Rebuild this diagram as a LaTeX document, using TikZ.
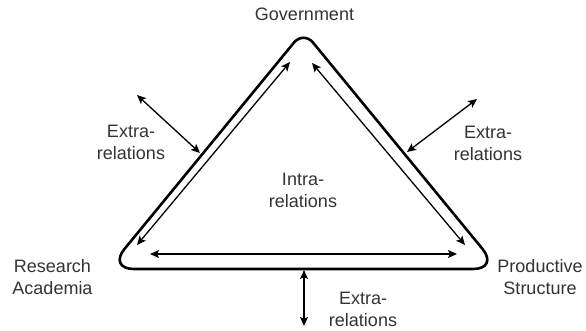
\documentclass[tikz,border=0pt]{standalone}
\usepackage{fontspec}
\setmainfont{Liberation Sans}
\usetikzlibrary{arrows.meta}
\definecolor{labelgray}{RGB}{51,51,51}

\begin{document}
\begin{tikzpicture}[x=1pt,y=-1pt,
    rel/.style={line width=1.3pt,
      {Stealth[length=9pt,width=8pt,inset=2pt]}-{Stealth[length=9pt,width=8pt,inset=2pt]}},
    lbl/.style={inner sep=0pt,align=center,text=labelgray,
      font=\fontsize{18}{22}\selectfont}]
    \useasboundingbox (0,0) rectangle (586,330);
    \coordinate (A0) at (108,269);
    \coordinate (A1) at (303.5,31);
    \coordinate (A2) at (499,269);
    \coordinate (A3) at (303.5,269);
    \coordinate (B0) at (137,245);
    \coordinate (B1) at (290,62);
    \coordinate (B2) at (312,63);
    \coordinate (B3) at (465,245);
    \coordinate (B4) at (150,254);
    \coordinate (B5) at (457,254);
    \coordinate (C0) at (137,95);
    \coordinate (C1) at (200,153);
    \coordinate (C2) at (477,99);
    \coordinate (C3) at (407,152);
    \coordinate (C4) at (304,270);
    \coordinate (C5) at (304,326);
      \draw [line width=2.6pt] (A3) [rounded corners=26pt] -- (A0)
        [rounded corners=15pt] -- (A1) [rounded corners=26pt] -- (A2) -- cycle;
      \draw [rel] (B0) -- (B1);
      \draw [rel] (B2) -- (B3);
      \draw [rel] (B4) -- (B5);
      \draw [rel] (C0) -- (C1);
      \draw [rel] (C2) -- (C3);
      \draw [rel] (C4) -- (C5);
      \node [lbl] (gov) at (304.5,14.5) {Government};
      \node [lbl] (res) at (52.5,277.5) {Research\\Academia};
      \node [lbl] (prod) at (540,277.5) {Productive\\Structure};
      \node [lbl] (intra) at (303,190.5) {Intra-\\relations};
      \node [lbl] (extl) at (131,142.5) {Extra-\\relations};
      \node [lbl] (extr) at (488,143) {Extra-\\relations};
      \node [lbl] (extb) at (363,309.5) {Extra-\\relations};
  \end{tikzpicture}
\end{document}
